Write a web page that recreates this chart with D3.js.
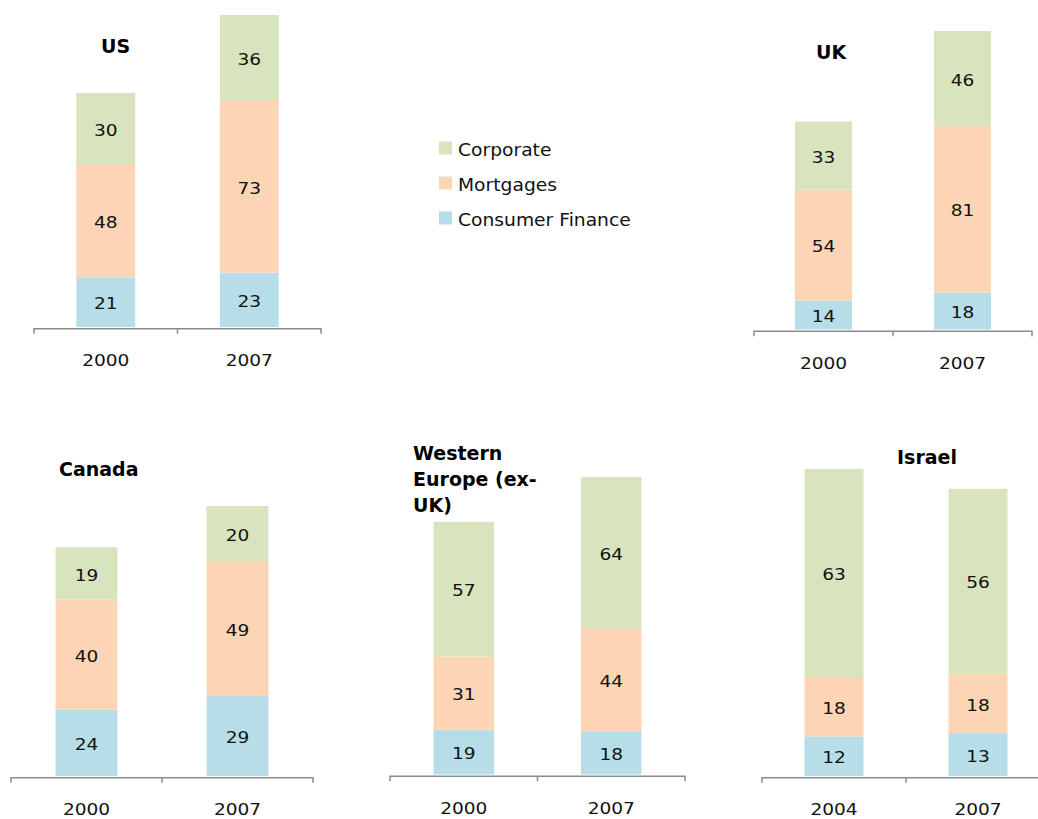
<!DOCTYPE html>
<html><head><meta charset="utf-8">
<script src="https://cdn.jsdelivr.net/npm/d3@7"></script>
<style>body{margin:0;background:#fff;}svg{display:block;}</style>
</head><body>
<script>
// ---- data ----
const seriesNames = ["Consumer Finance", "Mortgages", "Corporate"];
const panelTitles = ["US", "UK", "Canada", "Western Europe (ex-UK)", "Israel"];
const usYears = ["2000", "2007"];
const usConsumer = [21, 23];
const usMortgages = [48, 73];
const usCorporate = [30, 36];
const ukYears = ["2000", "2007"];
const ukConsumer = [14, 18];
const ukMortgages = [54, 81];
const ukCorporate = [33, 46];
const caYears = ["2000", "2007"];
const caConsumer = [24, 29];
const caMortgages = [40, 49];
const caCorporate = [19, 20];
const weYears = ["2000", "2007"];
const weConsumer = [19, 18];
const weMortgages = [31, 44];
const weCorporate = [57, 64];
const ilYears = ["2004", "2007"];
const ilConsumer = [12, 13];
const ilMortgages = [18, 18];
const ilCorporate = [63, 56];

const colors = {"Consumer Finance": "#b7dee8", "Mortgages": "#fcd5b5", "Corporate": "#d7e4bd"};

// ---- layout (pixels) ----
const layouts = [
  {x0: 34, x1: 321, bottom: 327, top: 15, titleX: 101, titleY: 46},
  {x0: 754, x1: 1032, bottom: 329.5, top: 31, titleX: 816, titleY: 52},
  {x0: 11, x1: 313, bottom: 776, top: 506, titleX: 59, titleY: 469},
  {x0: 390, x1: 685, bottom: 774.5, top: 477, titleX: 413, titleY: 453, lines: ["Western", "Europe (ex-", "UK)"]},
  {x0: 762, x1: 1050, bottom: 776, top: 469, titleX: 897, titleY: 457}
];

const panelData = [
  [usYears, usConsumer, usMortgages, usCorporate],
  [ukYears, ukConsumer, ukMortgages, ukCorporate],
  [caYears, caConsumer, caMortgages, caCorporate],
  [weYears, weConsumer, weMortgages, weCorporate],
  [ilYears, ilConsumer, ilMortgages, ilCorporate]
];

const font = "'DejaVu Sans', Verdana, sans-serif";
const svg = d3.select("body").append("svg").attr("width", 1038).attr("height", 819);

function stretchedText(parent, x, y, txt, size, sx, anchor) {
  return parent.append("text")
    .attr("transform", `translate(${x},${y}) scale(${sx},1)`)
    .attr("dy", "0.45em")
    .attr("text-anchor", anchor)
    .attr("font-family", font).attr("font-size", size).attr("fill", "#111")
    .text(txt);
}

panelData.forEach((pd, i) => {
  const L = layouts[i];
  const [years, cons, mort, corp] = pd;
  const rows = years.map((y, j) => ({year: y, "Consumer Finance": cons[j], "Mortgages": mort[j], "Corporate": corp[j]}));
  const stack = d3.stack().keys(seriesNames)(rows);
  const maxTotal = d3.max(rows, r => r["Consumer Finance"] + r["Mortgages"] + r["Corporate"]);
  const x = d3.scaleBand().domain(years).range([L.x0, L.x1]).paddingInner(0.59).paddingOuter(0.295);
  const y = d3.scaleLinear().domain([0, maxTotal]).range([L.bottom, L.top]);
  const g = svg.append("g");

  stack.forEach(layer => {
    const key = layer.key;
    g.selectAll(null).data(layer).enter().append("rect")
      .attr("x", d => x(d.data.year))
      .attr("width", x.bandwidth())
      .attr("y", d => y(d[1]))
      .attr("height", d => y(d[0]) - y(d[1]))
      .attr("fill", colors[key]);
    layer.forEach(d => {
      stretchedText(g, x(d.data.year) + x.bandwidth() / 2, (y(d[0]) + y(d[1])) / 2, d.data[key], 16, 1.16, "middle");
    });
  });

  // axis
  const axisY = L.bottom + 1.8;
  const ax = g.append("g").attr("transform", `translate(0,${axisY})`)
    .call(d3.axisBottom(x).tickSize(0).tickFormat(""));
  ax.select(".domain").attr("d", `M${L.x0},5V0H${L.x1}V5`).attr("stroke", "#8c8c8c").attr("stroke-width", 1.5).attr("fill", "none");
  g.append("line").attr("x1", (L.x0 + L.x1) / 2).attr("x2", (L.x0 + L.x1) / 2)
    .attr("y1", axisY).attr("y2", axisY + 5).attr("stroke", "#8c8c8c").attr("stroke-width", 1.5);
  years.forEach(yr => {
    stretchedText(g, x(yr) + x.bandwidth() / 2, L.bottom + 32, yr, 16, 1.16, "middle");
  });

  // title
  const lines = L.lines || [panelTitles[i]];
  lines.forEach((t, k) => {
    g.append("text").attr("x", L.titleX).attr("y", L.titleY + k * 26).attr("dy", "0.36em")
      .attr("font-family", font).attr("font-weight", "bold").attr("font-size", 19).attr("fill", "#000")
      .text(t);
  });
});

// legend
const legendItems = ["Corporate", "Mortgages", "Consumer Finance"];
const leg = svg.append("g");
legendItems.forEach((k, i) => {
  const cy = 148 + i * 35;
  leg.append("rect").attr("x", 439).attr("y", cy - 6.5).attr("width", 13).attr("height", 13).attr("fill", colors[k]);
  stretchedText(leg, 458, cy, k, 17, 1.1, "start");
});
</script>
</body></html>
